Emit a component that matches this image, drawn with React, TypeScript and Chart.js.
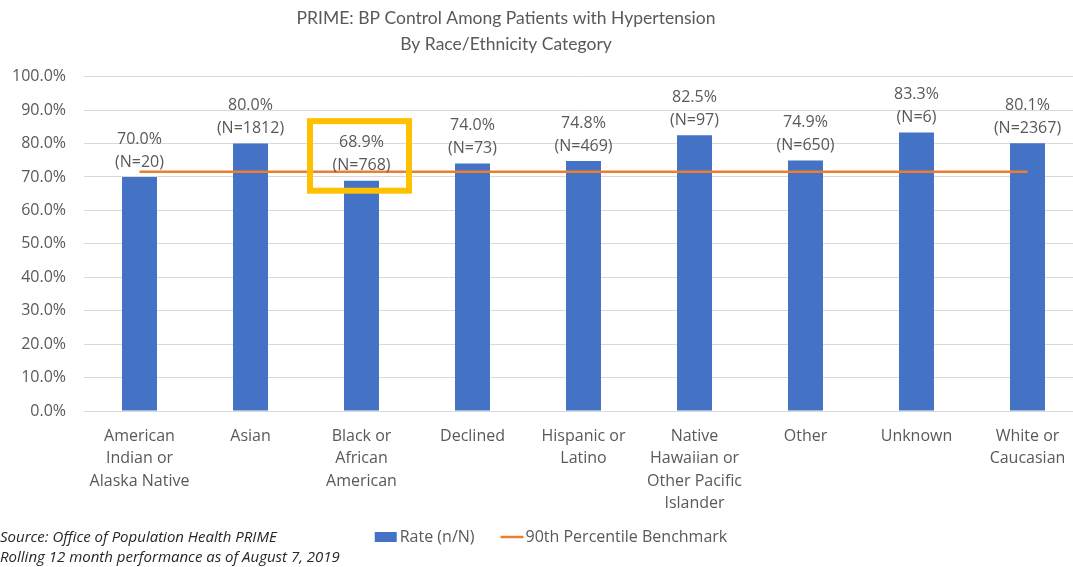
import React, { useEffect, useRef } from "react";
import { Chart, registerables } from "chart.js";

Chart.register(...registerables);

const titleLines = ["PRIME: BP Control Among Patients with Hypertension", "By Race/Ethnicity Category"];
const categories = [
  ["American", "Indian or", "Alaska Native"],
  ["Asian"],
  ["Black or", "African", "American"],
  ["Declined"],
  ["Hispanic or", "Latino"],
  ["Native", "Hawaiian or", "Other Pacific", "Islander"],
  ["Other"],
  ["Unknown"],
  ["White or", "Caucasian"],
];
const rates = [70.0, 80.0, 68.9, 74.0, 74.8, 82.5, 74.9, 83.3, 80.1];
const counts = [20, 1812, 768, 73, 469, 97, 650, 6, 2367];
const benchmark = [71.6, 71.6, 71.6, 71.6, 71.6, 71.6, 71.6, 71.6, 71.6];
const legendLabels = ["Rate (n/N)", "90th Percentile Benchmark"];
const footnoteLines = ["Source: Office of Population Health PRIME", "Rolling 12 month performance as of August 7, 2019"];
const highlightIndex = 2;
const highlightRange = [65.0, 87.6];

const BAR = "#4472C4";
const LINE = "#ED7D31";
const TEXT = "#595959";
const FONT = "'Open Sans', 'DejaVu Sans', sans-serif";

const overlay = {
  id: "overlay",
  afterDatasetsDraw(chart: any) {
    const ctx = chart.ctx;
    const xs = chart.scales.x;
    const ys = chart.scales.y;
    const meta = chart.getDatasetMeta(1);
    ctx.save();
    // highlight box
    const step = xs.getPixelForValue(1) - xs.getPixelForValue(0);
    const cx = xs.getPixelForValue(highlightIndex) - 2;
    const half = step * 0.473;
    const yTop = ys.getPixelForValue(highlightRange[1]);
    const yBot = ys.getPixelForValue(highlightRange[0]);
    ctx.strokeStyle = "#FFC000";
    ctx.lineWidth = 6;
    ctx.strokeRect(cx - half + 3, yTop + 3, 2 * half - 6, yBot - yTop - 6);
    // data labels
    ctx.fillStyle = TEXT;
    ctx.font = `16px ${FONT}`;
    ctx.textAlign = "center";
    ctx.textBaseline = "middle";
    meta.data.forEach((bar: any, i: number) => {
      ctx.fillText(`${rates[i].toFixed(1)}%`, bar.x, bar.y - 38);
      ctx.fillText(`(N=${counts[i]})`, bar.x, bar.y - 15);
    });
    ctx.restore();
  },
  afterDraw(chart: any) {
    const ctx = chart.ctx;
    ctx.save();
    // title
    ctx.fillStyle = TEXT;
    ctx.textAlign = "center";
    ctx.textBaseline = "middle";
    ctx.font = `17.5px Lato, ${FONT}`;
    titleLines.forEach((t, i) => ctx.fillText(t, 506, 18 + i * 26));
    // legend
    ctx.font = `16px ${FONT}`;
    const w1 = ctx.measureText(legendLabels[0]).width;
    const w2 = ctx.measureText(legendLabels[1]).width;
    const total = 22 + 3 + w1 + 26 + 23 + 2 + w2;
    let lx = 551 - total / 2;
    const ly = 537;
    ctx.fillStyle = BAR;
    ctx.fillRect(lx, ly - 5, 22, 10);
    lx += 25;
    ctx.fillStyle = TEXT;
    ctx.textAlign = "left";
    ctx.fillText(legendLabels[0], lx, ly);
    lx += w1 + 26;
    ctx.strokeStyle = LINE;
    ctx.lineWidth = 2.5;
    ctx.beginPath();
    ctx.moveTo(lx, ly);
    ctx.lineTo(lx + 23, ly);
    ctx.stroke();
    lx += 25;
    ctx.fillText(legendLabels[1], lx, ly);
    // footnote
    ctx.fillStyle = "#262626";
    ctx.font = `italic 15px ${FONT}`;
    footnoteLines.forEach((t, i) => ctx.fillText(t, 0, 538 + i * 20));
    ctx.restore();
  },
};

export default function App() {
  const ref = useRef<HTMLCanvasElement>(null);
  useEffect(() => {
    if (!ref.current) return;
    const chart = new Chart(ref.current, {
      type: "bar",
      data: {
        labels: categories,
        datasets: [
          {
            type: "line",
            label: legendLabels[1],
            data: benchmark,
            borderColor: LINE,
            backgroundColor: LINE,
            borderWidth: 2.5,
            pointRadius: 0,
            order: 0,
          } as any,
          {
            type: "bar",
            label: legendLabels[0],
            data: rates,
            backgroundColor: BAR,
            categoryPercentage: 1,
            barPercentage: 0.315,
            order: 1,
          },
        ],
      },
      options: {
        animation: false,
        responsive: false,
        layout: { padding: { top: 76.7, left: 0, right: 0, bottom: 0 } },
        plugins: { legend: { display: false }, title: { display: false }, tooltip: { enabled: false } },
        scales: {
          x: {
            grid: { display: false, drawTicks: false },
            border: { display: false },
            ticks: {
              color: TEXT,
              font: { family: FONT, size: 16, lineHeight: 1.4 },
              maxRotation: 0,
              autoSkip: false,
              padding: 14,
            },
            afterFit: (s: any) => {
              s.height = 156;
            },
          },
          y: {
            min: 0,
            max: 100,
            grid: { color: "#D9D9D9", drawTicks: false },
            border: { display: false },
            ticks: {
              stepSize: 10,
              color: TEXT,
              font: { family: FONT, size: 16 },
              padding: 18,
              callback: (v: any) => `${Number(v).toFixed(1)}%`,
            },
            afterFit: (s: any) => {
              s.width = 84;
            },
          },
        },
      },
      plugins: [overlay],
    });
    return () => chart.destroy();
  }, []);
  return (
    <div style={{ position: "fixed", left: 0, top: 0, width: 1073, height: 567, overflow: "hidden", background: "#fff" }}>
      <canvas ref={ref} width={1083} height={567} style={{ width: 1083, height: 567, display: "block" }} />
    </div>
  );
}
